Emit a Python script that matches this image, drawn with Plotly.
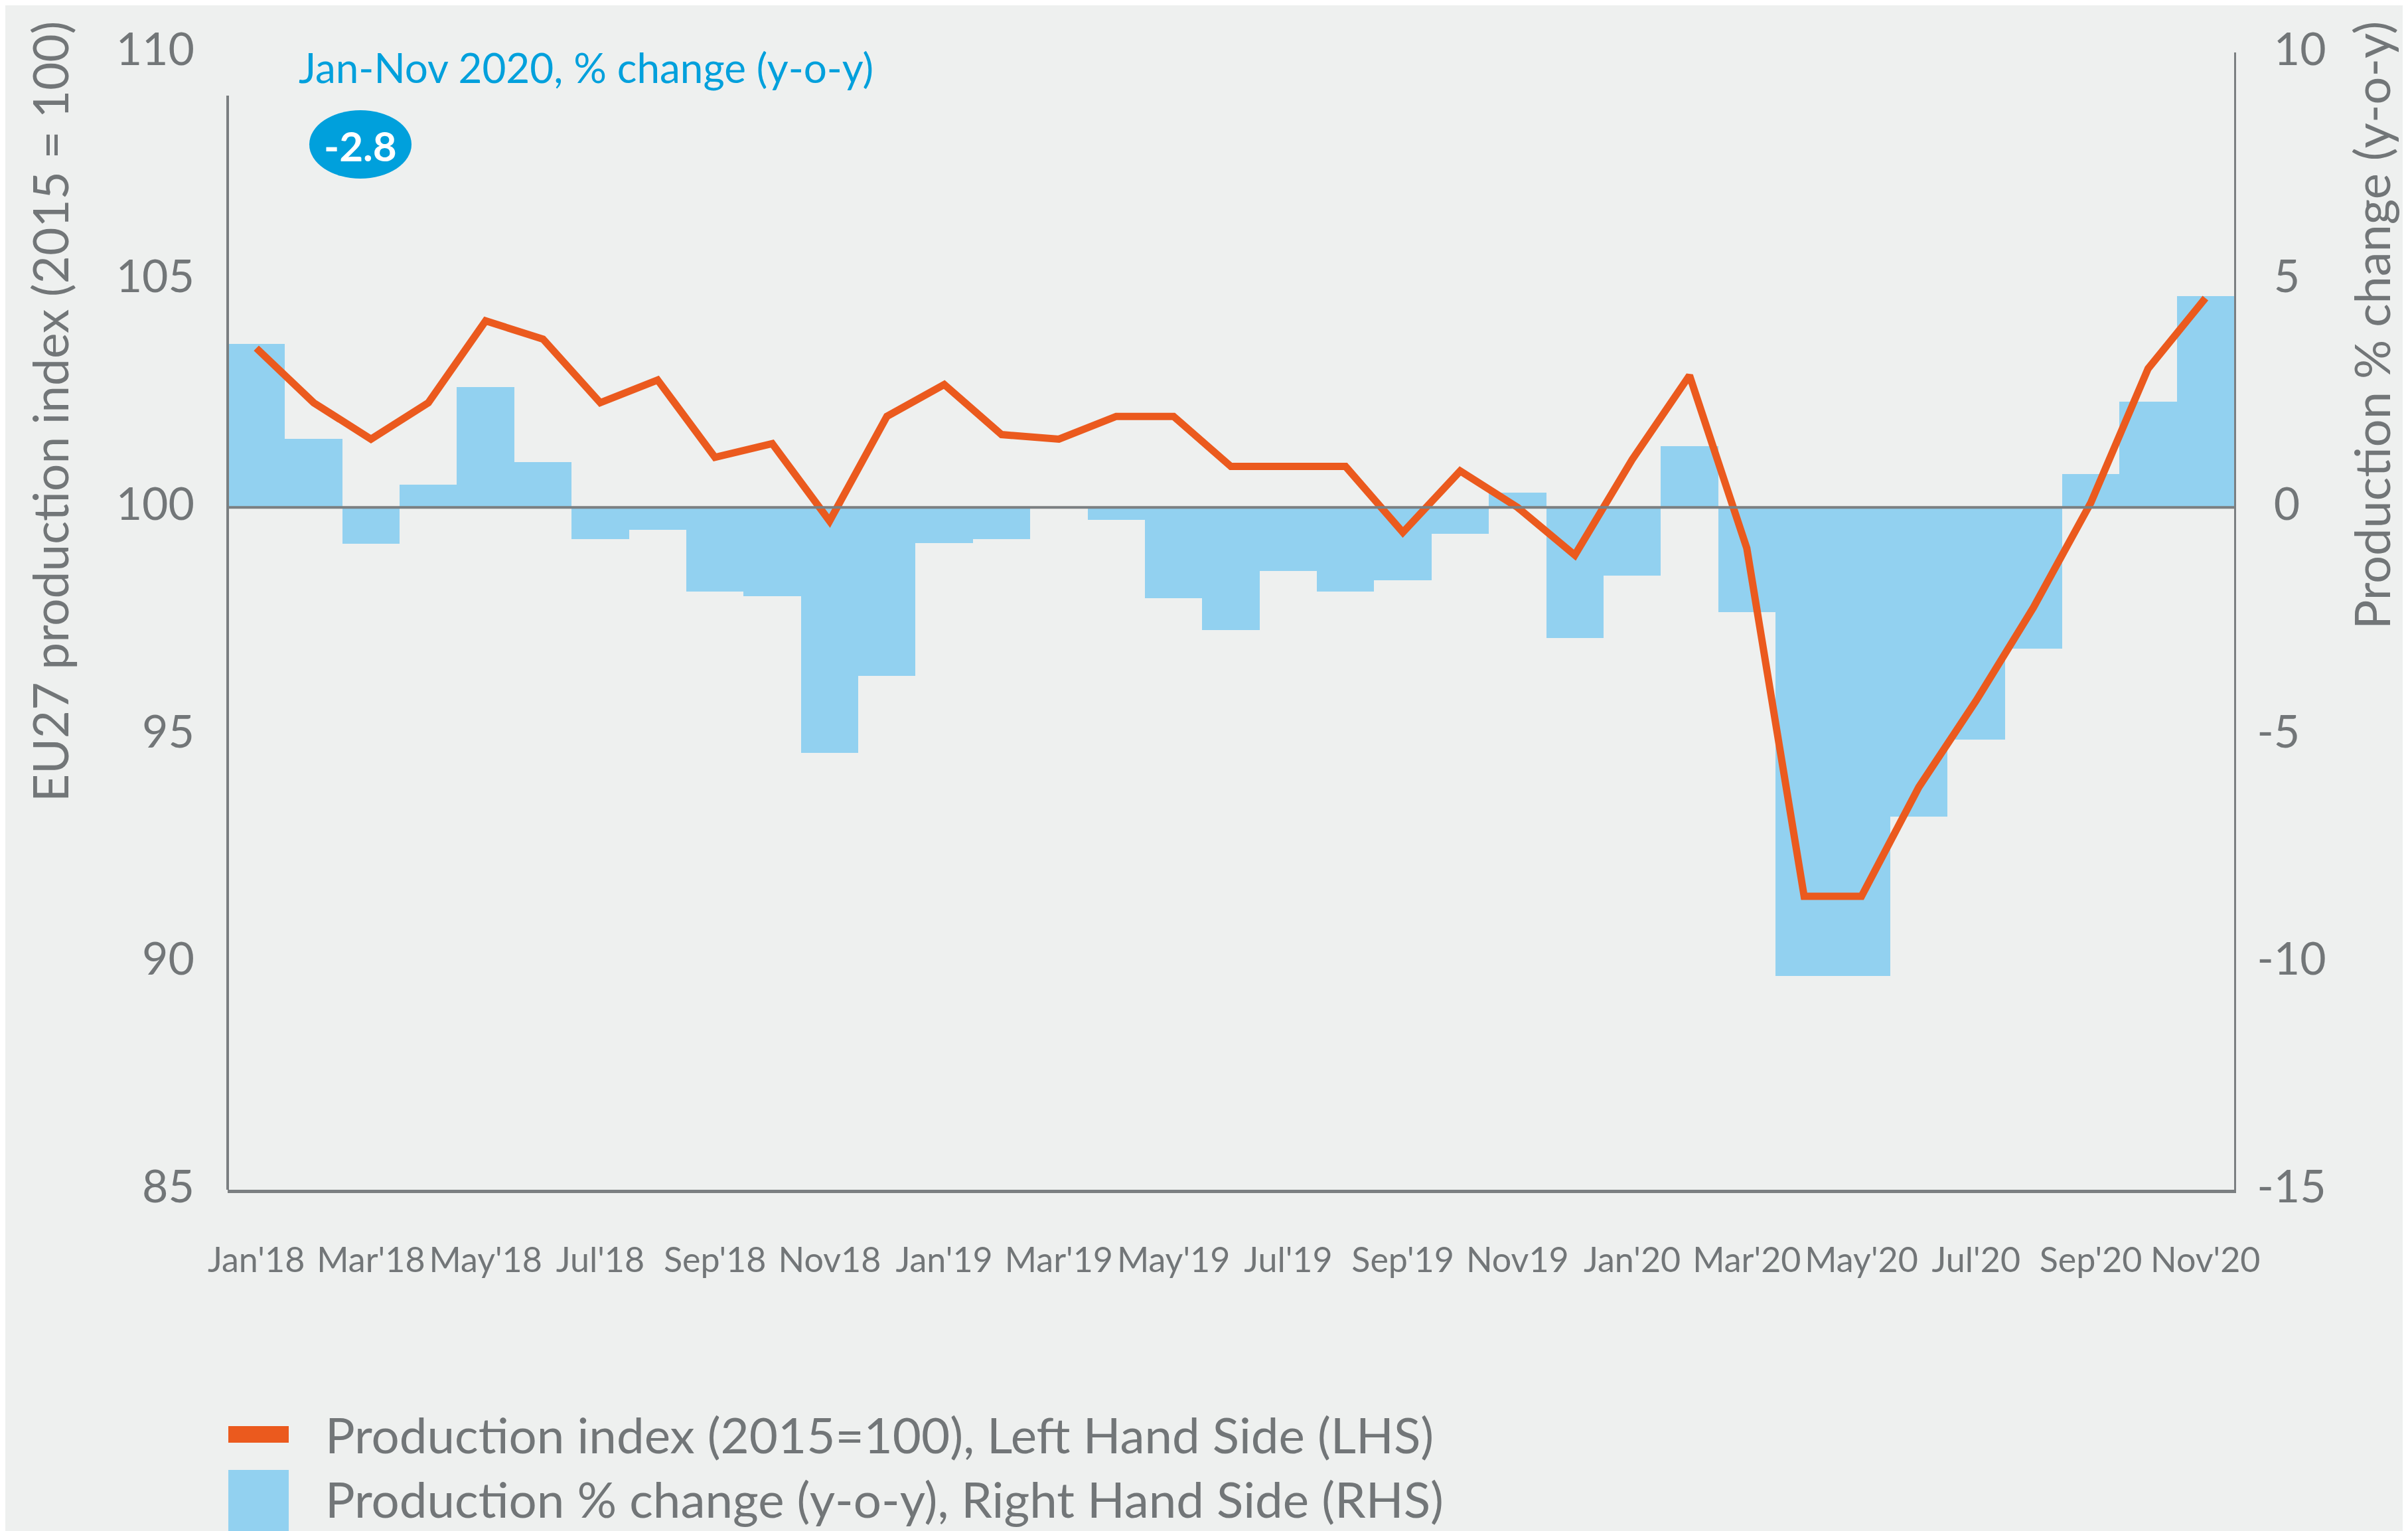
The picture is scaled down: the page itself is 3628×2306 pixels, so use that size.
import plotly.graph_objects as go

# ---------------- data ----------------
months = ["Jan'18", "Feb'18", "Mar'18", "Apr'18", "May'18", "Jun'18", "Jul'18", "Aug'18",
          "Sep'18", "Oct'18", "Nov'18", "Dec'18",
          "Jan'19", "Feb'19", "Mar'19", "Apr'19", "May'19", "Jun'19", "Jul'19", "Aug'19",
          "Sep'19", "Oct'19", "Nov'19", "Dec'19",
          "Jan'20", "Feb'20", "Mar'20", "Apr'20", "May'20", "Jun'20", "Jul'20", "Aug'20",
          "Sep'20", "Oct'20", "Nov'20"]

production_index = [103.5, 102.3, 101.5, 102.3, 104.1, 103.7, 102.3, 102.8,
                    101.1, 101.4, 99.7, 102.0,
                    102.7, 101.6, 101.5, 102.0, 102.0, 100.9, 100.9, 100.9,
                    99.45, 100.8, 100.0, 98.95,
                    101.05, 102.9, 99.1, 91.45, 91.45, 93.85, 95.75, 97.8,
                    100.1, 103.05, 104.6]

pct_change = [3.6, 1.5, -0.8, 0.5, 2.65, 1.0, -0.7, -0.5,
              -1.85, -1.95, -5.4, -3.7,
              -0.78, -0.7, 0.0, -0.27, -2.0, -2.7, -1.4, -1.85,
              -1.6, -0.58, 0.33, -2.87,
              -1.5, 1.35, -2.3, -10.3, -10.3, -6.8, -5.1, -3.1,
              0.73, 2.33, 4.65]

tick_months = ["Jan'18", "Mar'18", "May'18", "Jul'18", "Sep'18", "Nov'18",
               "Jan'19", "Mar'19", "May'19", "Jul'19", "Sep'19", "Nov'19",
               "Jan'20", "Mar'20", "May'20", "Jul'20", "Sep'20", "Nov'20"]
tick_text = ["Jan'18", "Mar'18", "May'18", "Jul'18", "Sep'18", "Nov18",
             "Jan'19", "Mar'19", "May'19", "Jul'19", "Sep'19", "Nov19",
             "Jan'20", "Mar'20", "May'20", "Jul'20", "Sep'20", "Nov'20"]

left_ticks = [85, 90, 95, 100, 105, 110]
right_ticks = [-15, -10, -5, 0, 5, 10]

series_line_name = "Production index (2015=100), Left Hand Side (LHS)"
series_bar_name = "Production % change (y-o-y), Right Hand Side (RHS)"
left_title = "EU27 production index (2015 = 100)"
right_title = "Production % change (y-o-y)"
box_title = "Jan-Nov 2020, % change (y-o-y)"
box_value = "-2.8"

# ---------------- style ----------------
W, H = 3628, 2306
OFF = 8  # default page body margin of the html page
PLOT_L, PLOT_R, PLOT_T, PLOT_B = 343, 3366, 79, 1792   # page pixel positions
PW, PH = PLOT_R - PLOT_L, PLOT_B - PLOT_T
ML, MT = PLOT_L - OFF, PLOT_T - OFF
MR, MB = W - ML - PW, H - MT - PH
BG = "#EEF0EF"
GREY = "#727678"
AXIS = "#7B7F81"
ORANGE = "#EB5A1E"
LIGHTBLUE = "#92D1F0"
BLUE = "#00A0DC"
FONT = "Lato, 'Open Sans', sans-serif"


def px_x(p):
    return (p - PLOT_L) / PW


def px_y(p):
    return (PLOT_B - p) / PH


def right_label(v):
    s = str(v)
    if v >= 0:
        return "<span style='color:%s'>-</span>%s" % (BG, s)
    return s


fig = go.Figure()
fig.add_trace(go.Bar(x=months, y=pct_change, marker=dict(color=LIGHTBLUE, line=dict(width=0)),
                     yaxis="y", name=series_bar_name, showlegend=False))
fig.add_trace(go.Scatter(x=months, y=production_index, mode="lines",
                         line=dict(color=ORANGE, width=11), yaxis="y2",
                         name=series_line_name, showlegend=False))

fig.update_layout(
    width=W, height=H,
    paper_bgcolor=BG, plot_bgcolor=BG,
    margin=dict(l=ML, r=MR, t=MT, b=MB, pad=0),
    bargap=0,
    font=dict(family=FONT, color=GREY),
    xaxis=dict(type="category", range=[-0.5, len(months) - 0.5],
               tickmode="array", tickvals=tick_months, ticktext=tick_text,
               tickfont=dict(size=52, color=GREY), ticks="", showgrid=False,
               showline=True, linecolor=AXIS, linewidth=5, ticklabelstandoff=57,
               zeroline=False),
    yaxis=dict(side="right", range=[-15, 10], tickmode="array", tickvals=right_ticks,
               ticktext=[right_label(v) for v in right_ticks],
               tickfont=dict(size=68, color=GREY), ticks="", showgrid=False,
               zeroline=False, showline=True, linecolor=AXIS, linewidth=3,
               ticklabelstandoff=18, ticklabelshift=-5),
    yaxis2=dict(side="left", overlaying="y", range=[85, 110], tickvals=left_ticks,
                tickfont=dict(size=68, color=GREY), ticks="", showgrid=False,
                zeroline=False, showline=False, ticklabelstandoff=49, ticklabelshift=-5),
)

shapes = [
    # zero reference line
    dict(type="line", xref="paper", yref="y", x0=0, x1=1, y0=0, y1=0,
         line=dict(color=AXIS, width=4), layer="above"),
    # left axis line
    dict(type="line", xref="paper", yref="paper", x0=0, x1=0, y0=0, y1=px_y(144),
         line=dict(color=AXIS, width=4), layer="above"),
    # value bubble
    dict(type="circle", xref="paper", yref="paper", x0=px_x(466), x1=px_x(620),
         y0=px_y(269), y1=px_y(166), fillcolor=BLUE, line=dict(width=0), layer="above"),
    # legend swatches
    dict(type="rect", xref="paper", yref="paper", x0=px_x(344), x1=px_x(435),
         y0=px_y(2173), y1=px_y(2148), fillcolor=ORANGE, line=dict(width=0)),
    dict(type="rect", xref="paper", yref="paper", x0=px_x(344), x1=px_x(435),
         y0=px_y(2320), y1=px_y(2214), fillcolor=LIGHTBLUE, line=dict(width=0)),
]
fig.update_layout(shapes=shapes)

annotations = [
    dict(text=box_title, xref="paper", yref="paper", x=px_x(448), y=px_y(101),
         xanchor="left", yanchor="middle", showarrow=False,
         font=dict(size=62, color=BLUE, family=FONT)),
    dict(text="<b>" + box_value + "</b>", xref="paper", yref="paper", x=px_x(543), y=px_y(219),
         xanchor="center", yanchor="middle", showarrow=False,
         font=dict(size=62, color="white", family=FONT)),
    dict(text=left_title, xref="paper", yref="paper", x=px_x(75), y=px_y(30),
         xanchor="center", yanchor="top", textangle=-90, showarrow=False,
         font=dict(size=73, color=GREY, family=FONT)),
    dict(text=right_title, xref="paper", yref="paper", x=px_x(3572), y=px_y(30),
         xanchor="center", yanchor="top", textangle=-90, showarrow=False,
         font=dict(size=74, color=GREY, family=FONT)),
    dict(text=series_line_name, xref="paper", yref="paper", x=px_x(488), y=px_y(2160),
         xanchor="left", yanchor="middle", showarrow=False,
         font=dict(size=74.5, color=GREY, family=FONT)),
    dict(text=series_bar_name, xref="paper", yref="paper", x=px_x(488), y=px_y(2257),
         xanchor="left", yanchor="middle", showarrow=False,
         font=dict(size=74.5, color=GREY, family=FONT)),
]
fig.update_layout(annotations=annotations)

fig.write_html("out.html")
